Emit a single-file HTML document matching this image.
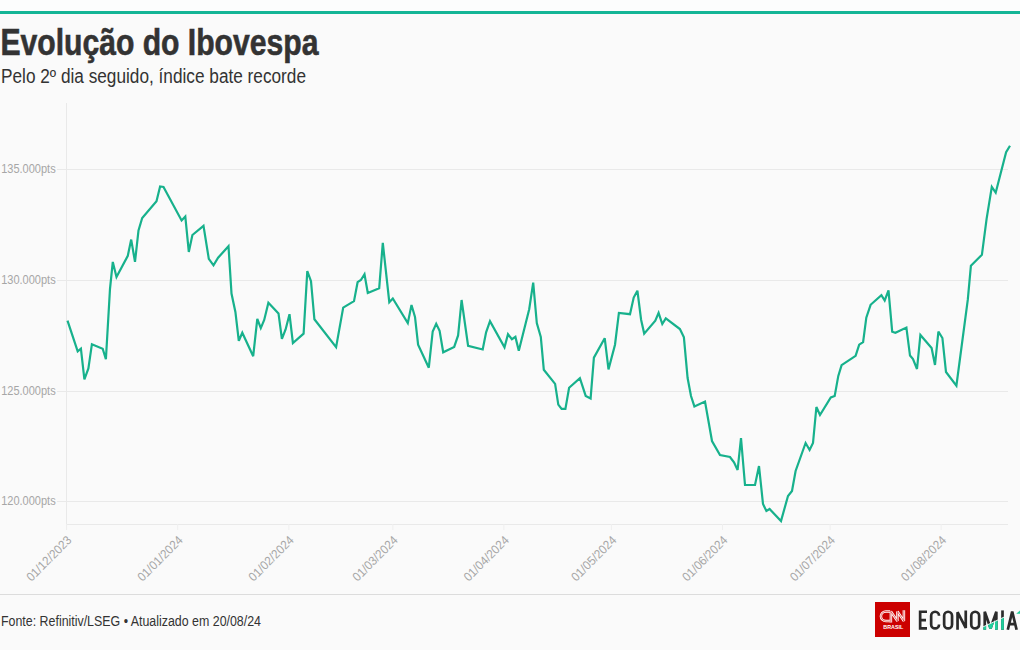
<!DOCTYPE html>
<html><head><meta charset="utf-8">
<style>
html,body{margin:0;padding:0;}
body{width:1020px;height:650px;overflow:hidden;background:#fafafa;position:relative;font-family:"Liberation Sans",sans-serif;}
.top{position:absolute;left:0;top:0;width:1020px;height:11px;background:#fcfdfd;}
.bar{position:absolute;left:0;top:11px;width:1020px;height:3px;background:#14b596;}
svg{position:absolute;left:0;top:0;}
svg text{font-family:"Liberation Sans",sans-serif;}
</style></head><body>
<div class="top"></div><div class="bar"></div>
<svg width="1020" height="650" viewBox="0 0 1020 650">
<text x="0.4" y="54.5" font-size="36" font-weight="bold" fill="#333333" stroke="#333333" stroke-width="0.6" textLength="318" lengthAdjust="spacingAndGlyphs">Evolução do Ibovespa</text>
<text x="1" y="82.8" font-size="19.5" fill="#333333" textLength="305" lengthAdjust="spacingAndGlyphs">Pelo 2º dia seguido, índice bate recorde</text>
<line x1="57" y1="169.5" x2="1008" y2="169.5" stroke="#e9e9e9" stroke-width="1"/>
<text x="55.7" y="172.8" text-anchor="end" font-size="12.4" fill="#a6a6a6" textLength="54.5" lengthAdjust="spacingAndGlyphs">135.000pts</text>
<line x1="57" y1="280.5" x2="1008" y2="280.5" stroke="#e9e9e9" stroke-width="1"/>
<text x="55.7" y="283.8" text-anchor="end" font-size="12.4" fill="#a6a6a6" textLength="54.5" lengthAdjust="spacingAndGlyphs">130.000pts</text>
<line x1="57" y1="391.5" x2="1008" y2="391.5" stroke="#e9e9e9" stroke-width="1"/>
<text x="55.7" y="394.8" text-anchor="end" font-size="12.4" fill="#a6a6a6" textLength="54.5" lengthAdjust="spacingAndGlyphs">125.000pts</text>
<line x1="57" y1="501.5" x2="1008" y2="501.5" stroke="#e9e9e9" stroke-width="1"/>
<text x="55.7" y="504.8" text-anchor="end" font-size="12.4" fill="#a6a6a6" textLength="54.5" lengthAdjust="spacingAndGlyphs">120.000pts</text>
<line x1="66.5" y1="103" x2="66.5" y2="530" stroke="#e9e9e9" stroke-width="1"/>
<line x1="66" y1="524.5" x2="1008" y2="524.5" stroke="#e9e9e9" stroke-width="1"/>
<line x1="66.6" y1="524" x2="66.6" y2="530" stroke="#efefef" stroke-width="1"/>
<text transform="translate(72.4,541) rotate(-45)" text-anchor="end" font-size="12.4" fill="#a6a6a6" textLength="58" lengthAdjust="spacingAndGlyphs">01/12/2023</text>
<line x1="177.7" y1="524" x2="177.7" y2="530" stroke="#efefef" stroke-width="1"/>
<text transform="translate(183.5,541) rotate(-45)" text-anchor="end" font-size="12.4" fill="#a6a6a6" textLength="58" lengthAdjust="spacingAndGlyphs">01/01/2024</text>
<line x1="288.8" y1="524" x2="288.8" y2="530" stroke="#efefef" stroke-width="1"/>
<text transform="translate(294.6,541) rotate(-45)" text-anchor="end" font-size="12.4" fill="#a6a6a6" textLength="58" lengthAdjust="spacingAndGlyphs">01/02/2024</text>
<line x1="392.8" y1="524" x2="392.8" y2="530" stroke="#efefef" stroke-width="1"/>
<text transform="translate(398.6,541) rotate(-45)" text-anchor="end" font-size="12.4" fill="#a6a6a6" textLength="58" lengthAdjust="spacingAndGlyphs">01/03/2024</text>
<line x1="503.9" y1="524" x2="503.9" y2="530" stroke="#efefef" stroke-width="1"/>
<text transform="translate(509.7,541) rotate(-45)" text-anchor="end" font-size="12.4" fill="#a6a6a6" textLength="58" lengthAdjust="spacingAndGlyphs">01/04/2024</text>
<line x1="611.4" y1="524" x2="611.4" y2="530" stroke="#efefef" stroke-width="1"/>
<text transform="translate(617.2,541) rotate(-45)" text-anchor="end" font-size="12.4" fill="#a6a6a6" textLength="58" lengthAdjust="spacingAndGlyphs">01/05/2024</text>
<line x1="722.5" y1="524" x2="722.5" y2="530" stroke="#efefef" stroke-width="1"/>
<text transform="translate(728.3,541) rotate(-45)" text-anchor="end" font-size="12.4" fill="#a6a6a6" textLength="58" lengthAdjust="spacingAndGlyphs">01/06/2024</text>
<line x1="830.1" y1="524" x2="830.1" y2="530" stroke="#efefef" stroke-width="1"/>
<text transform="translate(835.9,541) rotate(-45)" text-anchor="end" font-size="12.4" fill="#a6a6a6" textLength="58" lengthAdjust="spacingAndGlyphs">01/07/2024</text>
<line x1="941.2" y1="524" x2="941.2" y2="530" stroke="#efefef" stroke-width="1"/>
<text transform="translate(947.0,541) rotate(-45)" text-anchor="end" font-size="12.4" fill="#a6a6a6" textLength="58" lengthAdjust="spacingAndGlyphs">01/08/2024</text>
<polyline points="67.5,320.7 77.7,351.3 80.9,348.7 84.4,379.3 88.4,368.5 91.9,344.2 102.7,348.7 105.9,359.3 110,288.8 112.8,261.9 116.5,276.9 127.8,255.8 131.2,239.6 135,261.9 138.5,230.4 142.2,218 156.5,201.2 160.1,186.5 163.5,187 181.6,220.4 185.3,216.5 188.8,251.9 192.4,235 203.5,225.8 208.8,258.8 213.5,265.3 218.1,257.7 228.5,246.2 231.5,293.5 235.4,311.9 238.8,340.8 242.3,332.7 253.2,356.2 257.3,318.8 260.8,328.1 264.2,320 268.4,302.7 278.5,313.4 281.9,338.8 285.6,329.4 289.5,314.2 292.9,343 303.6,333.7 307.3,271.1 311,281.2 314.4,319.3 336.1,347.2 343.2,307.6 354,301.1 357.6,282.2 360.9,280 364.5,274.2 367.8,292.9 379.2,288.2 382.8,242.9 389.3,302.2 392.8,298.5 407.8,323.1 411.5,305 415,316.9 418.1,344.6 428.8,367.7 432.7,331.5 436.2,323.8 439.6,330.8 443.2,352.3 454.2,346.9 458.1,335.4 461.6,300 468.1,345.8 482.7,349.5 486.1,332.3 490,321.2 504.5,347.3 508,334.2 511.9,339.2 515.4,336.9 518.8,350.8 529.2,309.2 533.2,282.7 536.8,323.1 540.8,336.9 543.8,369.7 555.1,383.9 558.3,404.6 561.6,408.9 565.4,408.9 569.1,387.8 579.9,378.1 585.7,395.9 590.6,398.5 593.9,357.6 604.7,338.2 608.5,369.4 615,344.7 618.9,312.9 630,314.2 633.7,297.6 637.4,290.7 641.1,319.7 644.2,333.6 655.3,320.7 658.6,312.9 662.3,324 665.8,318.4 679.9,329 683.9,337.3 687.6,378 691,396 694.4,406.4 705,401.6 712,441 720,455 730,457 734,462.4 737.6,470 741,438 745,485 755,485 759,466 763,504 766.4,511 769.6,509 781,521 788,496 792,491 795.6,471 805.6,443 809.6,450 813,443 816.4,407 820,415 830.8,397.5 834.7,396 838.3,375.9 841.6,365.1 855.6,355.9 859.2,344.7 863.1,342.1 866.3,317.7 870.6,304.8 881.4,295.1 884.7,300.5 888.5,290.3 892.2,331.7 895.4,332.8 906.4,327.6 910,355.6 913,359 917,369 920.4,335 931.6,348 935,365 938.4,331.6 942.4,338 946,372 956.4,385.6 967.8,299.7 970.9,265.8 981.9,254.8 986.6,218.8 991.8,186.9 995.7,192.7 1006.1,152.2 1010,145.7" fill="none" stroke="#17b18c" stroke-width="2.2" stroke-linejoin="miter" stroke-miterlimit="3"/>
<line x1="0" y1="594.5" x2="1020" y2="594.5" stroke="#dcdcdc" stroke-width="1"/>
<text x="1" y="625.8" font-size="15.5" fill="#333333" textLength="260" lengthAdjust="spacingAndGlyphs">Fonte: Refinitiv/LSEG • Atualizado em 20/08/24</text>
<rect x="875" y="602" width="35" height="35" fill="#cc0000"/>
<path d="M890.2,611.4 L886,611.4 A5.1,4.85 0 0 0 886,621.1 L890.2,621.1" fill="none" stroke="#fff" stroke-width="2.5"/>
<path d="M890.9,622.4 L890.9,611.4 L897.4,621.1 L897.4,611.4 L903.9,621.1 L903.9,610.2" fill="none" stroke="#fff" stroke-width="2.5" stroke-linejoin="miter" stroke-miterlimit="2"/>
<path d="M890.2,611.4 L886,611.4 A5.1,4.85 0 0 0 886,621.1 L890.2,621.1" fill="none" stroke="#d40000" stroke-width="0.6"/>
<path d="M890.9,622.4 L890.9,611.4 L897.4,621.1 L897.4,611.4 L903.9,621.1 L903.9,610.2" fill="none" stroke="#d40000" stroke-width="0.6"/>
<text x="893.3" y="629" text-anchor="middle" font-size="4.8" font-weight="bold" fill="#fff" textLength="20" lengthAdjust="spacingAndGlyphs">BRASIL</text>
<defs><clipPath id="cl"><polygon points="982,633 982,627.3 1005.8,616.3 1005.8,633"/></clipPath></defs>
<g id="eco" fill="none" stroke="#2b2b2b" stroke-width="2.7" stroke-linejoin="miter" stroke-miterlimit="10">
<path d="M927,611.75 H920.15 V628.45 H927 M920.15,620.1 H926"/>
<path d="M939.05,615.7 A3.95,3.95 0 0 0 931.15,615.7 V624.5 A3.95,3.95 0 0 0 939.05,624.5"/>
<path d="M944.15,615.7 A3.95,3.95 0 0 1 952.05,615.7 V624.5 A3.95,3.95 0 0 1 944.15,624.5 Z"/>
<path d="M957.55,629.8 V612.2 L965.75,627.9 V610.4" stroke-miterlimit="1.5"/>
<path d="M971.25,615.7 A3.95,3.95 0 0 1 979.15,615.7 V624.5 A3.95,3.95 0 0 1 971.25,624.5 Z"/>
<path d="M984.75,629.8 V611.75 L990.55,628.2 L996.35,611.75 V629.8" stroke-miterlimit="1.5"/>
<path d="M1002.5,610.4 V629.8"/>
<path d="M1007.8,629.8 L1012.2,611.5 L1016.6,629.8 M1008.8,624.2 H1015.6" stroke-miterlimit="1.5"/>
</g>
<g clip-path="url(#cl)" fill="none" stroke="#1fcf9c" stroke-width="2.7">
<path d="M984.75,629.8 V611.75 L990.55,628.2 L996.35,611.75 V629.8" stroke-miterlimit="1.5"/>
<path d="M1002.5,610.4 V629.8"/>
</g>
<line x1="981" y1="627.8" x2="1006.5" y2="616" stroke="#fafafa" stroke-width="0.9"/>
<polygon points="1016.2,613.8 1020,610.6 1020,613.8" fill="#1fcf9c"/>
</svg>
</body></html>
